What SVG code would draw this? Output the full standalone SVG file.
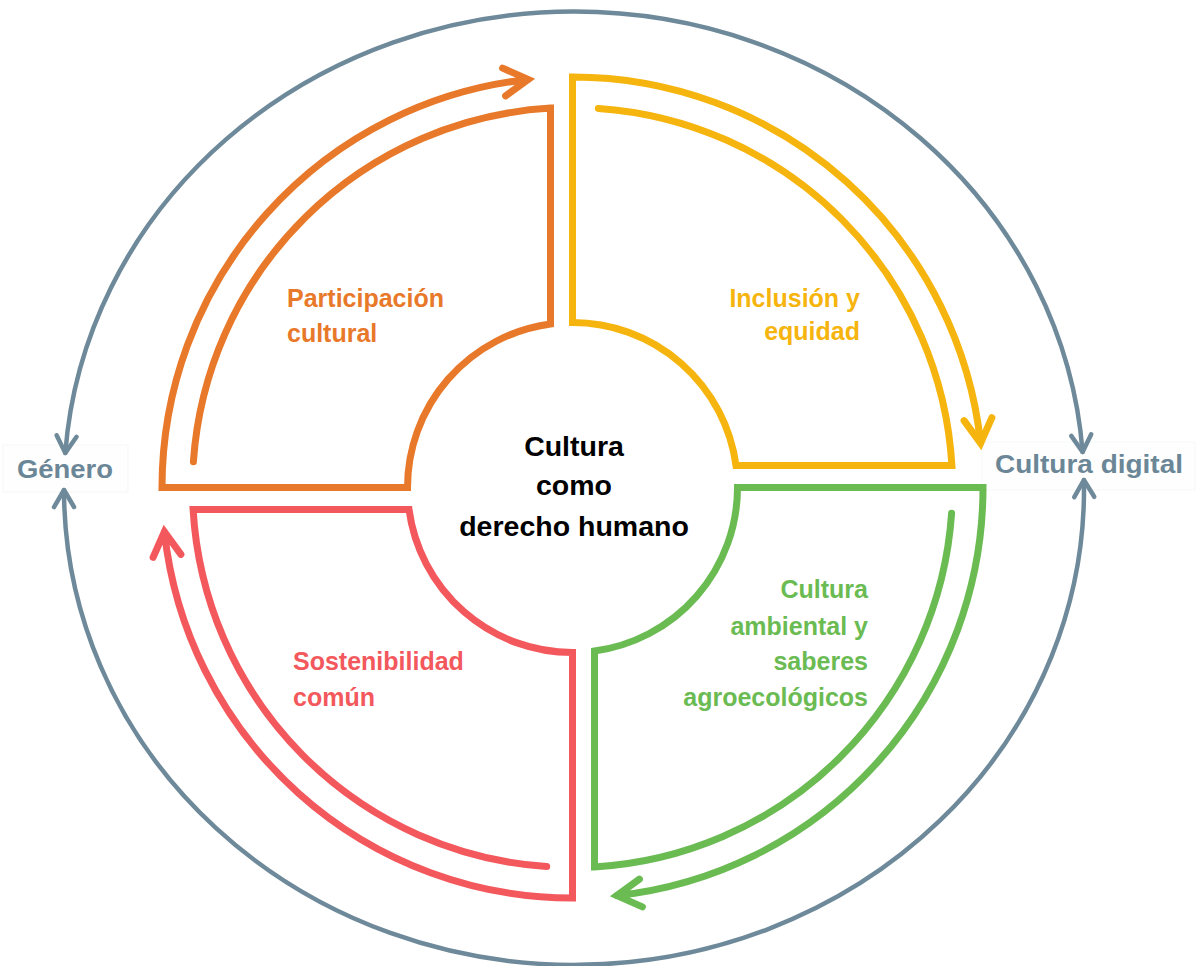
<svg xmlns="http://www.w3.org/2000/svg" width="1196" height="966" viewBox="0 0 1196 966">
<style>
  .q { fill: none; stroke-width: 7; stroke-linecap: round; stroke-linejoin: miter; }
  .ring { fill: none; stroke: #6E8A9A; stroke-width: 4.5; stroke-linecap: round; }
  .lbl { font-family: "Liberation Sans", Arial, sans-serif; font-weight: bold; font-size: 25px; }
  .side { font-family: "Liberation Sans", Arial, sans-serif; font-weight: bold; font-size: 26px; fill: #6B8797; }
  .center { font-family: "Liberation Sans", Arial, sans-serif; font-weight: bold; font-size: 28.5px; fill: #000; text-anchor: middle; }
  .box { fill: #fefefe; stroke: #f6f7f8; stroke-width: 1; }
</style>
<defs>
  <marker id="ga" markerUnits="userSpaceOnUse" markerWidth="40" markerHeight="40" refX="0" refY="0" orient="auto-start-reverse" overflow="visible">
    <path d="M -17 -10 L 0 0 L -17 10" fill="none" stroke="#6E8A9A" stroke-width="4.5" stroke-linecap="round" stroke-linejoin="round"/>
  </marker>
</defs>
<rect width="1196" height="966" fill="#ffffff"/>

<g id="label-boxes">
  <rect class="box" x="3" y="445" width="125" height="47"/>
  <rect class="box" x="982" y="442" width="213" height="48"/>
</g>

<g id="connectors">
  <path class="ring" d="M 65.3 453 A 510 475.5 0 0 1 1082.6 452" marker-start="url(#ga)" marker-end="url(#ga)"/>
  <path class="ring" d="M 64 490 A 510 475.5 0 1 0 1083.9 480" marker-start="url(#ga)" marker-end="url(#ga)"/>
</g>

<g id="participacion-cultural">
  <path class="q" stroke="#E8792A" d="M 193.4 461.7 A 380 380 0 0 1 550.5 108.1 L 550.5 324 A 165 165 0 0 0 407.5 487.5 L 162 487.5 A 410.5 410.5 0 0 1 528.2 79.4 M 502.6 68.1 L 528.2 79.4 L 505.6 95.9"/>
  <text class="lbl" fill="#E8792A"><tspan x="287" y="307">Participación</tspan><tspan x="287" y="342">cultural</tspan></text>
</g>

<g id="inclusion-equidad">
  <path class="q" stroke="#F6B50E" transform="rotate(90 572.5 487.5)" d="M 193.4 461.7 A 380 380 0 0 1 550.5 108.1 L 550.5 324 A 165 165 0 0 0 407.5 487.5 L 162 487.5 A 410.5 410.5 0 0 1 528.2 79.4 M 502.6 68.1 L 528.2 79.4 L 505.6 95.9"/>
  <text class="lbl" fill="#F6B50E" text-anchor="end"><tspan x="860" y="307">Inclusión y</tspan><tspan x="860" y="340">equidad</tspan></text>
</g>

<g id="cultura-ambiental">
  <path class="q" stroke="#6BBB53" transform="rotate(180 572.5 487.5)" d="M 193.4 461.7 A 380 380 0 0 1 550.5 108.1 L 550.5 324 A 165 165 0 0 0 407.5 487.5 L 162 487.5 A 410.5 410.5 0 0 1 528.2 79.4 M 502.6 68.1 L 528.2 79.4 L 505.6 95.9"/>
  <text class="lbl" fill="#6BBB53" text-anchor="end"><tspan x="868" y="598">Cultura</tspan><tspan x="868" y="635">ambiental y</tspan><tspan x="868" y="670">saberes</tspan><tspan x="868" y="706">agroecológicos</tspan></text>
</g>

<g id="sostenibilidad-comun">
  <path class="q" stroke="#F3585D" transform="rotate(270 572.5 487.5)" d="M 193.4 461.7 A 380 380 0 0 1 550.5 108.1 L 550.5 324 A 165 165 0 0 0 407.5 487.5 L 162 487.5 A 410.5 410.5 0 0 1 528.2 79.4 M 502.6 68.1 L 528.2 79.4 L 505.6 95.9"/>
  <text class="lbl" fill="#F3585D"><tspan x="293" y="670">Sostenibilidad</tspan><tspan x="293" y="706">común</tspan></text>
</g>

<g id="centro">
  <text class="center"><tspan x="574" y="456">Cultura</tspan><tspan x="574" y="495">como</tspan><tspan x="574" y="536">derecho humano</tspan></text>
</g>

<g id="genero">
  <text class="side" x="17" y="478" textLength="96" lengthAdjust="spacingAndGlyphs">Género</text>
</g>

<g id="cultura-digital">
  <text class="side" x="995" y="473" textLength="188" lengthAdjust="spacingAndGlyphs">Cultura digital</text>
</g>
</svg>
